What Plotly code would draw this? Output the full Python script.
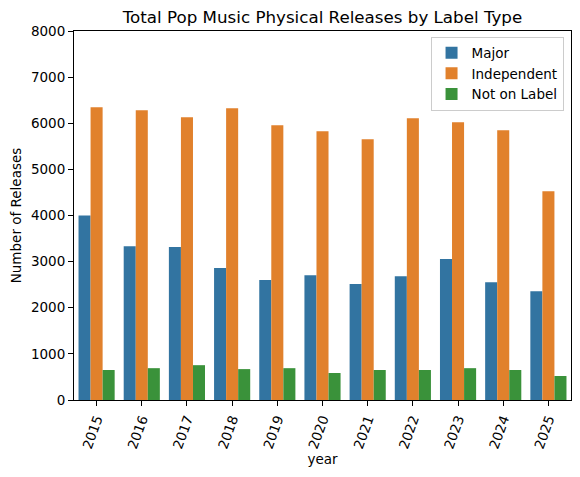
import plotly.graph_objects as go

years = ["2015", "2016", "2017", "2018", "2019", "2020", "2021", "2022", "2023", "2024", "2025"]
major = [4000, 3335, 3315, 2860, 2600, 2705, 2515, 2685, 3055, 2555, 2360]
independent = [6345, 6280, 6130, 6325, 5955, 5825, 5655, 6110, 6020, 5850, 4525]
not_on_label = [650, 690, 755, 670, 690, 585, 650, 650, 690, 650, 520]

series = [("Major", major, "#3274a1"),
          ("Independent", independent, "#e1812c"),
          ("Not on Label", not_on_label, "#3a923a")]

font = "DejaVu Sans, Arial, sans-serif"

# page body has an 8px margin, so the figure is a bit smaller than the window
W, H = 572, 469

fig = go.Figure()
for name, vals, col in series:
    fig.add_trace(go.Bar(x=years, y=vals, name=name, marker_color=col, marker_line_width=0))

fig.update_layout(
    width=W, height=H,
    barmode="group", bargap=0.2, bargroupgap=0,
    plot_bgcolor="white", paper_bgcolor="white",
    margin=dict(l=66, r=9, t=23, b=77),
    font=dict(family=font, size=13.5, color="black"),
    title=dict(text="Total Pop Music Physical Releases by Label Type", x=0.5, xref="paper",
               y=1 - 9.5 / H, yanchor="middle", font=dict(size=16.7, color="black")),
    legend=dict(x=0.985, y=0.985, xanchor="right", yanchor="top",
                bordercolor="#cccccc", borderwidth=1, bgcolor="rgba(255,255,255,0.8)",
                font=dict(size=13.5), tracegroupgap=2),
    showlegend=True,
)
fig.update_xaxes(title=dict(text="year", standoff=2, font=dict(size=13.5)), type="category",
                 range=[-0.5, 10.5], automargin=False,
                 showline=True, linecolor="black", linewidth=1, mirror=True,
                 ticks="outside", ticklen=5, tickcolor="black", tickangle=-70, showgrid=False)
fig.update_yaxes(title=dict(text="Number of Releases", standoff=8, font=dict(size=13.5)),
                 range=[0, 8000], dtick=1000, automargin=False,
                 showline=True, linecolor="black", linewidth=1, mirror=True,
                 ticks="outside", ticklen=5, tickcolor="black", showgrid=False, zeroline=False)

fig.write_html("out.html")
